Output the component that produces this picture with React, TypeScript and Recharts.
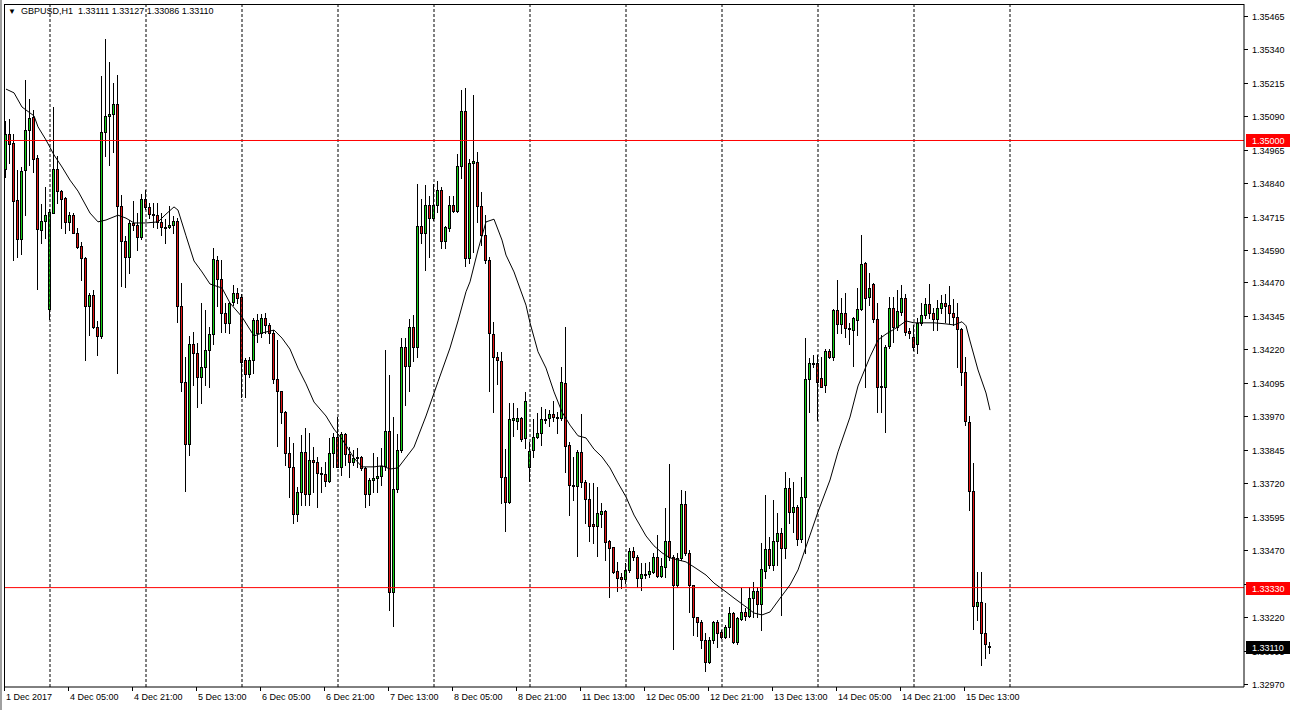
import { ComposedChart, Bar, Line, XAxis, YAxis, ReferenceLine } from 'recharts';

// GBPUSD H1, 1 Dec 13:00 .. 15 Dec 2017, one value per hourly candle
const opens = [
  1.34893, 1.35024, 1.34991, 1.34778, 1.34632, 1.34890, 1.35039, 1.35088, 1.34935, 1.34666,
  1.34699, 1.34370, 1.34729, 1.34893, 1.34811, 1.34785, 1.34696, 1.34721, 1.34655, 1.34606,
  1.34561, 1.34382, 1.34423, 1.34304, 1.34270, 1.35032, 1.35092, 1.35099, 1.35136, 1.34756,
  1.34624, 1.34565, 1.34692, 1.34684, 1.34640, 1.34781, 1.34752, 1.34725, 1.34721, 1.34696,
  1.34677, 1.34677, 1.34684, 1.34699, 1.34382, 1.34099, 1.33866, 1.34240, 1.34207, 1.34117,
  1.34154, 1.34218, 1.34277, 1.34554, 1.34482, 1.34356, 1.34319, 1.34397, 1.34431, 1.34416,
  1.34180, 1.34128, 1.34180, 1.34330, 1.34281, 1.34337, 1.34311, 1.34281, 1.34109, 1.34064,
  1.33986, 1.33833, 1.33781, 1.33605, 1.33688, 1.33837, 1.33680, 1.33807, 1.33800, 1.33758,
  1.33754, 1.33728, 1.33833, 1.33893, 1.33781, 1.33904, 1.33829, 1.33800, 1.33814, 1.33818,
  1.33777, 1.33680, 1.33732, 1.33739, 1.33747, 1.33785, 1.33915, 1.33314, 1.33698, 1.33844,
  1.34229, 1.34158, 1.34304, 1.34229, 1.34681, 1.34655, 1.34759, 1.34710, 1.34759, 1.34815,
  1.34624, 1.34673, 1.34759, 1.34736, 1.34905, 1.35110, 1.34561, 1.34916, 1.34920, 1.34756,
  1.34647, 1.34554, 1.34277, 1.34192, 1.34176, 1.33743, 1.33650, 1.33956, 1.33952, 1.33963,
  1.33889, 1.33781, 1.33844, 1.33893, 1.33908, 1.33956, 1.33963, 1.33978, 1.33967, 1.33963,
  1.34095, 1.33862, 1.33713, 1.33710, 1.33837, 1.33725, 1.33661, 1.33568, 1.33561, 1.33605,
  1.33616, 1.33504, 1.33482, 1.33392, 1.33370, 1.33362, 1.33396, 1.33467, 1.33445, 1.33366,
  1.33381, 1.33381, 1.33389, 1.33445, 1.33374, 1.33407, 1.33504, 1.33445, 1.33340, 1.33441,
  1.33642, 1.33460, 1.33340, 1.33220, 1.33202, 1.33134, 1.33052, 1.33134, 1.33202, 1.33164,
  1.33146, 1.33183, 1.33235, 1.33127, 1.33213, 1.33239, 1.33224, 1.33291, 1.33317, 1.33269,
  1.33392, 1.33474, 1.33415, 1.33504, 1.33534, 1.33478, 1.33702, 1.33613, 1.33631, 1.33512,
  1.33668, 1.34109, 1.34165, 1.34169, 1.34113, 1.34087, 1.34214, 1.34192, 1.34367, 1.34315,
  1.34356, 1.34300, 1.34292, 1.34330, 1.34371, 1.34543, 1.34416, 1.34464, 1.34333, 1.34083,
  1.34080, 1.34233, 1.34375, 1.34304, 1.34360, 1.34412, 1.34289, 1.34266, 1.34240, 1.34319,
  1.34348, 1.34389, 1.34356, 1.34333, 1.34375, 1.34393, 1.34386, 1.34356, 1.34341, 1.34296,
  1.34136, 1.33948, 1.33691, 1.33261, 1.33276, 1.33161, 1.33111,
];

const highs = [
  1.35073, 1.35080, 1.35024, 1.34890, 1.34901, 1.35226, 1.35155, 1.35114, 1.34946, 1.34763,
  1.34826, 1.34744, 1.35125, 1.34943, 1.34815, 1.34789, 1.34733, 1.34729, 1.34673, 1.34621,
  1.34565, 1.34431, 1.34442, 1.34326, 1.35241, 1.35379, 1.35294, 1.35215, 1.35244, 1.34796,
  1.34644, 1.34703, 1.34774, 1.34729, 1.34800, 1.34815, 1.34767, 1.34767, 1.34767, 1.34729,
  1.34706, 1.34756, 1.34718, 1.34710, 1.34468, 1.34192, 1.34270, 1.34285, 1.34244, 1.34393,
  1.34367, 1.34304, 1.34598, 1.34569, 1.34554, 1.34393, 1.34397, 1.34460, 1.34449, 1.34427,
  1.34188, 1.34192, 1.34337, 1.34352, 1.34352, 1.34356, 1.34319, 1.34292, 1.34255, 1.34064,
  1.33989, 1.33893, 1.33870, 1.33706, 1.33900, 1.33926, 1.33908, 1.33855, 1.33818, 1.33781,
  1.33800, 1.33889, 1.33908, 1.33967, 1.33912, 1.33908, 1.33855, 1.33844, 1.33851, 1.33822,
  1.33781, 1.33739, 1.33833, 1.33818, 1.33851, 1.34218, 1.34124, 1.33967, 1.33904, 1.34262,
  1.34262, 1.34333, 1.34348, 1.34837, 1.34781, 1.34833, 1.34793, 1.34837, 1.34848, 1.34826,
  1.34681, 1.34793, 1.34793, 1.34950, 1.35189, 1.35196, 1.34931, 1.35170, 1.34958, 1.34808,
  1.34721, 1.34565, 1.34323, 1.34211, 1.34211, 1.33847, 1.34020, 1.34020, 1.34001, 1.33967,
  1.34061, 1.33874, 1.33959, 1.33982, 1.34005, 1.33997, 1.33993, 1.34027, 1.33986, 1.34154,
  1.34304, 1.33874, 1.33818, 1.33844, 1.33978, 1.33732, 1.33721, 1.33721, 1.33706, 1.33646,
  1.33620, 1.33508, 1.33482, 1.33426, 1.33385, 1.33422, 1.33478, 1.33482, 1.33452, 1.33422,
  1.33422, 1.33426, 1.33460, 1.33527, 1.33441, 1.33627, 1.33792, 1.33452, 1.33460, 1.33695,
  1.33691, 1.33471, 1.33340, 1.33220, 1.33209, 1.33161, 1.33146, 1.33205, 1.33209, 1.33172,
  1.33190, 1.33258, 1.33239, 1.33220, 1.33329, 1.33254, 1.33332, 1.33351, 1.33332, 1.33497,
  1.33676, 1.33519, 1.33657, 1.33609, 1.33553, 1.33762, 1.33739, 1.33725, 1.33638, 1.33743,
  1.34262, 1.34188, 1.34199, 1.34199, 1.34192, 1.34221, 1.34221, 1.34371, 1.34479, 1.34412,
  1.34431, 1.34319, 1.34341, 1.34449, 1.34647, 1.34546, 1.34505, 1.34468, 1.34393, 1.34273,
  1.34236, 1.34416, 1.34416, 1.34442, 1.34460, 1.34427, 1.34300, 1.34311, 1.34337, 1.34393,
  1.34412, 1.34464, 1.34375, 1.34404, 1.34423, 1.34427, 1.34457, 1.34408, 1.34393, 1.34300,
  1.34192, 1.33971, 1.33796, 1.33389, 1.33389, 1.33273, 1.33127,
];

const lows = [
  1.34864, 1.34916, 1.34554, 1.34565, 1.34576, 1.34721, 1.34908, 1.34883, 1.34445, 1.34617,
  1.34636, 1.34333, 1.34729, 1.34767, 1.34673, 1.34655, 1.34666, 1.34655, 1.34598, 1.34479,
  1.34180, 1.34273, 1.34300, 1.34199, 1.34262, 1.34943, 1.34908, 1.34958, 1.34132, 1.34457,
  1.34453, 1.34505, 1.34666, 1.34591, 1.34632, 1.34744, 1.34710, 1.34677, 1.34673, 1.34647,
  1.34617, 1.34673, 1.34655, 1.34323, 1.34064, 1.33691, 1.33825, 1.34087, 1.34005, 1.34020,
  1.34087, 1.34080, 1.34240, 1.34382, 1.34285, 1.34285, 1.34281, 1.34385, 1.34393, 1.34042,
  1.34042, 1.34117, 1.34132, 1.34248, 1.34266, 1.34281, 1.34244, 1.34095, 1.33859, 1.33945,
  1.33788, 1.33669, 1.33572, 1.33579, 1.33638, 1.33638, 1.33638, 1.33688, 1.33631, 1.33688,
  1.33710, 1.33725, 1.33781, 1.33781, 1.33750, 1.33788, 1.33743, 1.33788, 1.33781, 1.33769,
  1.33631, 1.33638, 1.33688, 1.33688, 1.33713, 1.33769, 1.33246, 1.33187, 1.33688, 1.33837,
  1.34012, 1.34064, 1.34176, 1.34192, 1.34617, 1.34516, 1.34565, 1.34703, 1.34733, 1.34598,
  1.34598, 1.34662, 1.34733, 1.34733, 1.34860, 1.34532, 1.34543, 1.34584, 1.34696, 1.34609,
  1.34543, 1.34064, 1.33986, 1.34091, 1.33646, 1.33541, 1.33646, 1.33897, 1.33922, 1.33877,
  1.33851, 1.33728, 1.33818, 1.33889, 1.33862, 1.33945, 1.33934, 1.33952, 1.33908, 1.33956,
  1.33762, 1.33601, 1.33657, 1.33449, 1.33706, 1.33572, 1.33504, 1.33497, 1.33449, 1.33557,
  1.33433, 1.33295, 1.33385, 1.33317, 1.33329, 1.33347, 1.33389, 1.33433, 1.33332, 1.33321,
  1.33366, 1.33370, 1.33385, 1.33370, 1.33370, 1.33370, 1.33433, 1.33100, 1.33332, 1.33433,
  1.33452, 1.33239, 1.33153, 1.33149, 1.33104, 1.33019, 1.33049, 1.33123, 1.33108, 1.33142,
  1.33142, 1.33146, 1.33123, 1.33119, 1.33209, 1.33209, 1.33220, 1.33220, 1.33220, 1.33172,
  1.33366, 1.33403, 1.33396, 1.33415, 1.33228, 1.33441, 1.33572, 1.33538, 1.33489, 1.33501,
  1.33460, 1.33986, 1.34154, 1.33956, 1.34080, 1.34061, 1.34188, 1.34180, 1.34281, 1.34281,
  1.34266, 1.34240, 1.34158, 1.34273, 1.34367, 1.34080, 1.34385, 1.34323, 1.33986, 1.33986,
  1.33912, 1.34225, 1.34248, 1.34292, 1.34348, 1.34273, 1.34262, 1.34218, 1.34207, 1.34311,
  1.34337, 1.34337, 1.34292, 1.34292, 1.34356, 1.34323, 1.34319, 1.34311, 1.34154, 1.34087,
  1.33937, 1.33620, 1.33176, 1.33209, 1.33041, 1.33067, 1.33086,
];

const closes = [
  1.35024, 1.34987, 1.34774, 1.34632, 1.34886, 1.35039, 1.35084, 1.34931, 1.34669, 1.34699,
  1.34721, 1.34733, 1.34893, 1.34811, 1.34781, 1.34696, 1.34721, 1.34655, 1.34602, 1.34561,
  1.34382, 1.34423, 1.34304, 1.34270, 1.35032, 1.35092, 1.35099, 1.35136, 1.34756, 1.34624,
  1.34565, 1.34692, 1.34684, 1.34640, 1.34781, 1.34752, 1.34725, 1.34721, 1.34696, 1.34677,
  1.34675, 1.34684, 1.34699, 1.34382, 1.34099, 1.33866, 1.34240, 1.34207, 1.34117, 1.34154,
  1.34218, 1.34277, 1.34557, 1.34482, 1.34356, 1.34319, 1.34393, 1.34431, 1.34412, 1.34173,
  1.34128, 1.34180, 1.34330, 1.34281, 1.34337, 1.34311, 1.34281, 1.34109, 1.34064, 1.33986,
  1.33833, 1.33781, 1.33605, 1.33688, 1.33837, 1.33680, 1.33807, 1.33800, 1.33758, 1.33754,
  1.33728, 1.33833, 1.33893, 1.33781, 1.33904, 1.33829, 1.33800, 1.33814, 1.33818, 1.33777,
  1.33680, 1.33732, 1.33739, 1.33747, 1.33785, 1.33915, 1.33314, 1.33698, 1.33844, 1.34229,
  1.34158, 1.34304, 1.34229, 1.34681, 1.34655, 1.34759, 1.34710, 1.34759, 1.34815, 1.34624,
  1.34677, 1.34759, 1.34736, 1.34905, 1.35110, 1.34561, 1.34916, 1.34923, 1.34756, 1.34647,
  1.34554, 1.34281, 1.34192, 1.34180, 1.33743, 1.33650, 1.33959, 1.33963, 1.33963, 1.33885,
  1.34027, 1.33840, 1.33893, 1.33908, 1.33959, 1.33959, 1.33978, 1.33967, 1.33963, 1.34099,
  1.33859, 1.33713, 1.33710, 1.33837, 1.33725, 1.33661, 1.33561, 1.33561, 1.33609, 1.33616,
  1.33501, 1.33478, 1.33389, 1.33366, 1.33362, 1.33396, 1.33467, 1.33445, 1.33366, 1.33381,
  1.33377, 1.33392, 1.33445, 1.33374, 1.33411, 1.33504, 1.33445, 1.33340, 1.33441, 1.33642,
  1.33460, 1.33340, 1.33220, 1.33202, 1.33134, 1.33052, 1.33134, 1.33202, 1.33161, 1.33146,
  1.33183, 1.33235, 1.33127, 1.33216, 1.33239, 1.33224, 1.33291, 1.33317, 1.33269, 1.33400,
  1.33474, 1.33415, 1.33504, 1.33534, 1.33478, 1.33702, 1.33613, 1.33631, 1.33512, 1.33668,
  1.34109, 1.34169, 1.34169, 1.34099, 1.34080, 1.34214, 1.34192, 1.34367, 1.34315, 1.34356,
  1.34300, 1.34296, 1.34337, 1.34371, 1.34539, 1.34412, 1.34449, 1.34333, 1.34080, 1.34080,
  1.34229, 1.34375, 1.34304, 1.34363, 1.34412, 1.34285, 1.34281, 1.34229, 1.34319, 1.34348,
  1.34389, 1.34356, 1.34333, 1.34375, 1.34393, 1.34382, 1.34356, 1.34341, 1.34296, 1.34136,
  1.33952, 1.33691, 1.33261, 1.33276, 1.33161, 1.33119, 1.33110,
];

// moving average at these candles
const maIndex = [
  0, 2, 4, 5, 7, 8, 10, 12, 14, 16, 18, 21, 23, 25, 28, 30, 32, 35, 38, 40,
  42, 43, 45, 47, 49, 51, 54, 56, 59, 62, 64, 67, 69, 71, 73, 75, 77, 80, 82, 84,
  87, 89, 92, 94, 96, 98, 102, 105, 108, 111, 113, 115, 116, 118, 119, 120, 122, 124, 125, 127,
  130, 131, 133, 135, 137, 139, 141, 143, 145, 147, 149, 151, 153, 155, 157, 160, 162, 164, 166, 170,
  172, 175, 177, 180, 182, 185, 187, 189, 191, 193, 196, 198, 201, 203, 206, 208, 211, 213, 216, 218,
  220, 223, 225, 227, 230, 232, 235, 237, 239, 240, 241, 243, 245, 246,
];
const maValues = [
  1.35192, 1.35178, 1.35125, 1.35114, 1.35092, 1.35051, 1.35002, 1.34946, 1.34901, 1.34852,
  1.34811, 1.34729, 1.34696, 1.34703, 1.34721, 1.34710, 1.34692, 1.34692, 1.34696, 1.34725,
  1.34752, 1.34740, 1.34644, 1.34550, 1.34509, 1.34464, 1.34449, 1.34393, 1.34341, 1.34270,
  1.34281, 1.34292, 1.34262, 1.34221, 1.34150, 1.34091, 1.34023, 1.33971, 1.33922, 1.33885,
  1.33814, 1.33781, 1.33781, 1.33785, 1.33773, 1.33777, 1.33855, 1.33971, 1.34099, 1.34225,
  1.34326, 1.34435, 1.34472, 1.34591, 1.34644, 1.34696, 1.34706, 1.34628, 1.34572, 1.34509,
  1.34385, 1.34319, 1.34211, 1.34150, 1.34061, 1.33986, 1.33937, 1.33897, 1.33889, 1.33847,
  1.33818, 1.33777, 1.33721, 1.33669, 1.33601, 1.33523, 1.33486, 1.33460, 1.33441, 1.33426,
  1.33407, 1.33377, 1.33347, 1.33314, 1.33291, 1.33258, 1.33235, 1.33228, 1.33239, 1.33280,
  1.33340, 1.33396, 1.33526, 1.33613, 1.33732, 1.33837, 1.33967, 1.34083, 1.34192, 1.34255,
  1.34277, 1.34304, 1.34326, 1.34319, 1.34319, 1.34319, 1.34315, 1.34311, 1.34323, 1.34308,
  1.34251, 1.34143, 1.34057, 1.33993,
];

const slotCount = 310; // chart leaves empty room to the right of the last candle
const timeTicks = [0, 16, 32, 48, 64, 80, 96, 112, 128, 144, 160, 176, 192, 208, 224, 240];
const timeLabels = [
  '1 Dec 2017', '4 Dec 05:00', '4 Dec 21:00', '5 Dec 13:00', '6 Dec 05:00', '6 Dec 21:00',
  '7 Dec 13:00', '8 Dec 05:00', '8 Dec 21:00', '11 Dec 13:00', '12 Dec 05:00', '12 Dec 21:00',
  '13 Dec 13:00', '14 Dec 05:00', '14 Dec 21:00', '15 Dec 13:00',
];
const daySeparators = [11, 35, 59, 83, 107, 131, 155, 179, 203, 227, 251];
const priceTicks = [
  1.35465, 1.3534, 1.35215, 1.3509, 1.34965, 1.3484, 1.34715, 1.3459, 1.3447, 1.34345, 1.3422,
  1.34095, 1.3397, 1.33845, 1.3372, 1.33595, 1.3347, 1.33345, 1.3322, 1.33095, 1.3297,
];
const priceDomain = [1.329588, 1.355098];
const redLevels = [1.35, 1.3333];
const bidPrice = 1.3311;
const tagPrices = [...redLevels, bidPrice];
const header = 'GBPUSD,H1  1.33111 1.33127 1.33086 1.33110';

const FONT = '"Liberation Sans", Arial, sans-serif';
const BULL = '#16d016';
const BEAR = '#e41414';

const maByIndex = new Map(maIndex.map((k, j) => [k, maValues[j]]));
const data = Array.from({ length: slotCount }, (_, i) =>
  i < opens.length
    ? { i, open: opens[i], high: highs[i], low: lows[i], close: closes[i], ma: maByIndex.get(i) ?? null }
    : { i, ma: null }
);

function Candle(props: any) {
  const { x, y, width, height, payload } = props;
  if (!payload || payload.high == null || height == null) return null;
  const { open, high, low, close } = payload;
  const h = Math.abs(height);
  const span = high - low || 1;
  const toY = (p: number) => y + ((high - p) / span) * h;
  const cx = Math.round(x + width / 2);
  const yh = Math.round(toY(high));
  const yl = Math.round(toY(low));
  const yo = Math.round(toY(open));
  const yc = Math.round(toY(close));
  const top = Math.min(yo, yc);
  const bot = Math.max(yo, yc);
  return (
    <g>
      <rect x={cx - 1} y={yh} width={1} height={Math.max(1, yl - yh + 1)} fill="#000" />
      <rect x={cx - 2} y={top} width={3} height={bot - top + 1} fill="#000" />
      {bot - top > 1 && (
        <rect x={cx - 1} y={top + 1} width={1} height={bot - top - 1} fill={close >= open ? BULL : BEAR} />
      )}
    </g>
  );
}

function TimeTick({ x, y, payload }: any) {
  const k = timeTicks.indexOf(payload.value);
  const tx = Math.round(x) - 2;
  return (
    <g>
      <line x1={tx + 0.5} x2={tx + 0.5} y1={y} y2={y + 4} stroke="#000" />
      <text x={tx + 2} y={y + 13} fontSize={9} fontFamily={FONT} fill="#000">
        {timeLabels[k]}
      </text>
    </g>
  );
}

function PriceTick({ x, y, payload }: any) {
  const ty = Math.round(y) + 0.5;
  return (
    <g>
      <line x1={x} x2={x + 4} y1={ty} y2={ty} stroke="#000" />
      <text x={x + 8} y={ty + 3} fontSize={9} fontFamily={FONT} fill="#000">
        {Number(payload.value).toFixed(5)}
      </text>
    </g>
  );
}

// drawn by a second, 1px wide right axis so the tags sit above the price labels
function TagTick({ x, y, payload }: any) {
  const v = Number(payload.value);
  const bg = v === bidPrice ? '#000' : '#ff0000';
  const right = Math.round(x) + 1;
  const left = right - 44;
  const ty = Math.round(y);
  return (
    <g>
      <rect x={left} y={ty - 6} width={44} height={13} fill={bg} />
      <text x={left + 6} y={ty + 4} fontSize={9} fontFamily={FONT} fill="#fff">
        {v.toFixed(5)}
      </text>
    </g>
  );
}

export default function App() {
  return (
    <div style={{ position: 'absolute', left: 0, top: 0, width: 1290, height: 710, background: '#fff', overflow: 'hidden' }}>
      <ComposedChart
        width={1290}
        height={710}
        data={data}
        margin={{ top: 4, right: 0, bottom: 0, left: 4 }}
        barCategoryGap={0}
        barGap={0}
      >
        <XAxis
          dataKey="i"
          type="category"
          height={23}
          ticks={timeTicks}
          interval={0}
          tickSize={0}
          tickMargin={0}
          tick={<TimeTick />}
          axisLine={{ stroke: '#000' }}
        />
        <YAxis
          orientation="right"
          type="number"
          width={45}
          domain={priceDomain}
          allowDataOverflow
          ticks={priceTicks}
          interval={0}
          tickSize={0}
          tickMargin={0}
          tick={<PriceTick />}
          axisLine={{ stroke: '#000' }}
        />
        <YAxis
          yAxisId="tags"
          orientation="right"
          type="number"
          width={1}
          domain={priceDomain}
          allowDataOverflow
          ticks={tagPrices}
          interval={0}
          tickSize={0}
          tickMargin={0}
          tick={<TagTick />}
          axisLine={false}
        />
        {daySeparators.map((k) => (
          <ReferenceLine key={k} x={k} stroke="#000" strokeDasharray="3 2" ifOverflow="visible" />
        ))}
        {redLevels.map((p) => (
          <ReferenceLine key={p} y={p} stroke="#ff0000" />
        ))}
        <Bar
          dataKey={(d: any) => (d.high == null ? null : [d.low, d.high])}
          barSize={4}
          shape={<Candle />}
          isAnimationActive={false}
        />
        <Line
          dataKey="ma"
          type="linear"
          stroke="#000"
          strokeWidth={1}
          dot={false}
          activeDot={false}
          connectNulls
          isAnimationActive={false}
        />
      </ComposedChart>
      <div style={{ position: 'absolute', left: 4, top: 4, width: 1240, height: 683, borderLeft: '1px solid #000', borderTop: '1px solid #000', boxSizing: 'border-box', pointerEvents: 'none' }} />
      <div style={{ position: 'absolute', left: 0, top: 0, width: 2, height: 710, background: '#a0a0a0' }} />
      <div style={{ position: 'absolute', left: 8, top: 5, fontFamily: FONT, fontSize: 9, color: '#000', whiteSpace: 'pre', lineHeight: '12px' }}>
        <span style={{ fontSize: 8, marginRight: 5 }}>▼</span>
        {header}
      </div>
    </div>
  );
}
